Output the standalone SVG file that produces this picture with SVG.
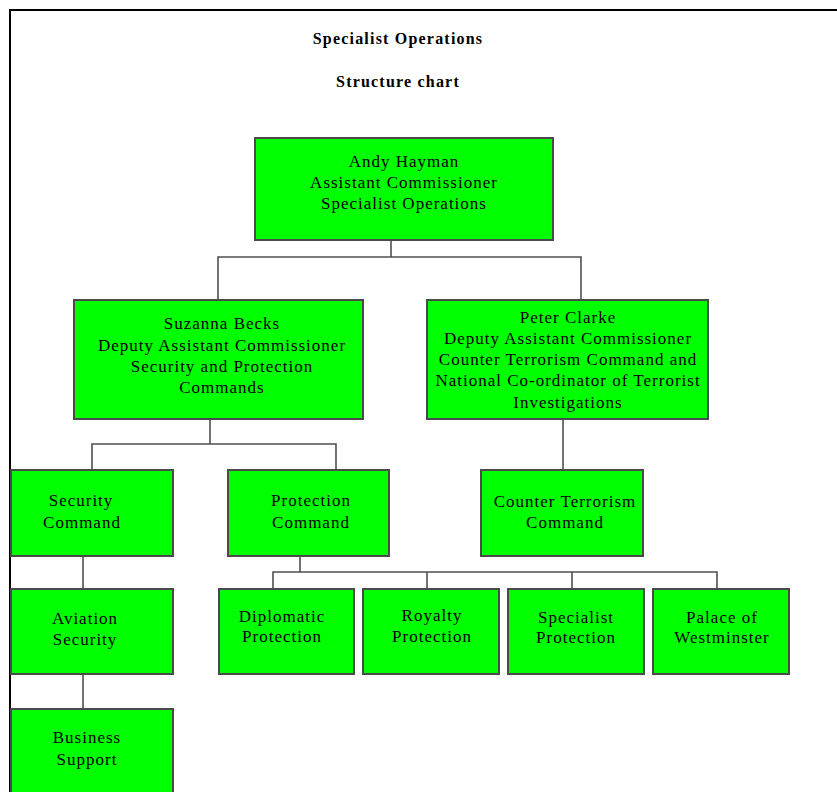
<svg xmlns="http://www.w3.org/2000/svg" width="837" height="792" viewBox="0 0 837 792">
<style>
.frame{stroke:#000;stroke-width:2;fill:none}
.box{fill:#00ff00;stroke:#4a4a4a;stroke-width:2}
.conn{stroke:#505050;stroke-width:1.6;fill:none}
.t{font-family:"Liberation Serif","Times New Roman",serif;font-size:17px;letter-spacing:1px;fill:#000;text-anchor:middle}
.title{font-family:"Liberation Serif","Times New Roman",serif;font-size:16px;font-weight:bold;letter-spacing:1.2px;fill:#000;text-anchor:middle}
</style>
<rect width="837" height="792" fill="#fff"/>
<path class="frame" d="M10,792 V10 H837"/>
<text class="title" x="398" y="44">Specialist Operations</text>
<text class="title" x="398" y="87">Structure chart</text>
<g id="connectors">
<path class="conn" d="M391,240 V257 M218,300 V257 H581 V300"/>
<path class="conn" d="M210,419 V444 M92,470 V444 H336 V470"/>
<path class="conn" d="M563,419 V470"/>
<path class="conn" d="M83,556 V589 M83,674 V709"/>
<path class="conn" d="M300,556 V572 M273,589 V572 H717 V589 M427,572 V589 M572,572 V589"/>
</g>
<g id="andy"><rect class="box" x="255" y="138" width="298" height="102"/>
<text class="t" x="404" y="167">Andy Hayman</text><text class="t" x="404" y="188">Assistant Commissioner</text><text class="t" x="404" y="209">Specialist Operations</text></g>
<g id="suzanna"><rect class="box" x="74" y="300" width="289" height="119"/>
<text class="t" x="222" y="329">Suzanna Becks</text><text class="t" x="222" y="351">Deputy Assistant Commissioner</text><text class="t" x="222" y="372">Security and Protection</text><text class="t" x="222" y="393">Commands</text></g>
<g id="peter"><rect class="box" x="427" y="300" width="281" height="119"/>
<text class="t" x="568" y="323">Peter Clarke</text><text class="t" x="568" y="344">Deputy Assistant Commissioner</text><text class="t" x="568" y="365">Counter Terrorism Command and</text><text class="t" x="568" y="386">National Co-ordinator of Terrorist</text><text class="t" x="568" y="408">Investigations</text></g>
<g id="counter-terrorism"><rect class="box" x="481" y="470" width="162" height="86"/>
<text class="t" x="565" y="507">Counter Terrorism</text><text class="t" x="565" y="528">Command</text></g>
<g id="security-command"><rect class="box" x="11" y="470" width="162" height="86"/>
<text class="t" x="81" y="506">Security</text><text class="t" x="82" y="528">Command</text></g>
<g id="protection-command"><rect class="box" x="228" y="470" width="161" height="86"/>
<text class="t" x="311" y="506">Protection</text><text class="t" x="311" y="528">Command</text></g>
<g id="aviation-security"><rect class="box" x="11" y="589" width="162" height="85"/>
<text class="t" x="85" y="624">Aviation</text><text class="t" x="85" y="645">Security</text></g>
<g id="business-support"><rect class="box" x="11" y="709" width="162" height="90"/>
<text class="t" x="87" y="743">Business</text><text class="t" x="87" y="765">Support</text></g>
<g id="diplomatic"><rect class="box" x="219" y="589" width="135" height="85"/>
<text class="t" x="282" y="622">Diplomatic</text><text class="t" x="282" y="642">Protection</text></g>
<g id="royalty"><rect class="box" x="363" y="589" width="136" height="85"/>
<text class="t" x="432" y="621">Royalty</text><text class="t" x="432" y="642">Protection</text></g>
<g id="specialist"><rect class="box" x="508" y="589" width="136" height="85"/>
<text class="t" x="576" y="623">Specialist</text><text class="t" x="576" y="643">Protection</text></g>
<g id="palace"><rect class="box" x="653" y="589" width="136" height="85"/>
<text class="t" x="722" y="623">Palace of</text><text class="t" x="722" y="643">Westminster</text></g>
</svg>
